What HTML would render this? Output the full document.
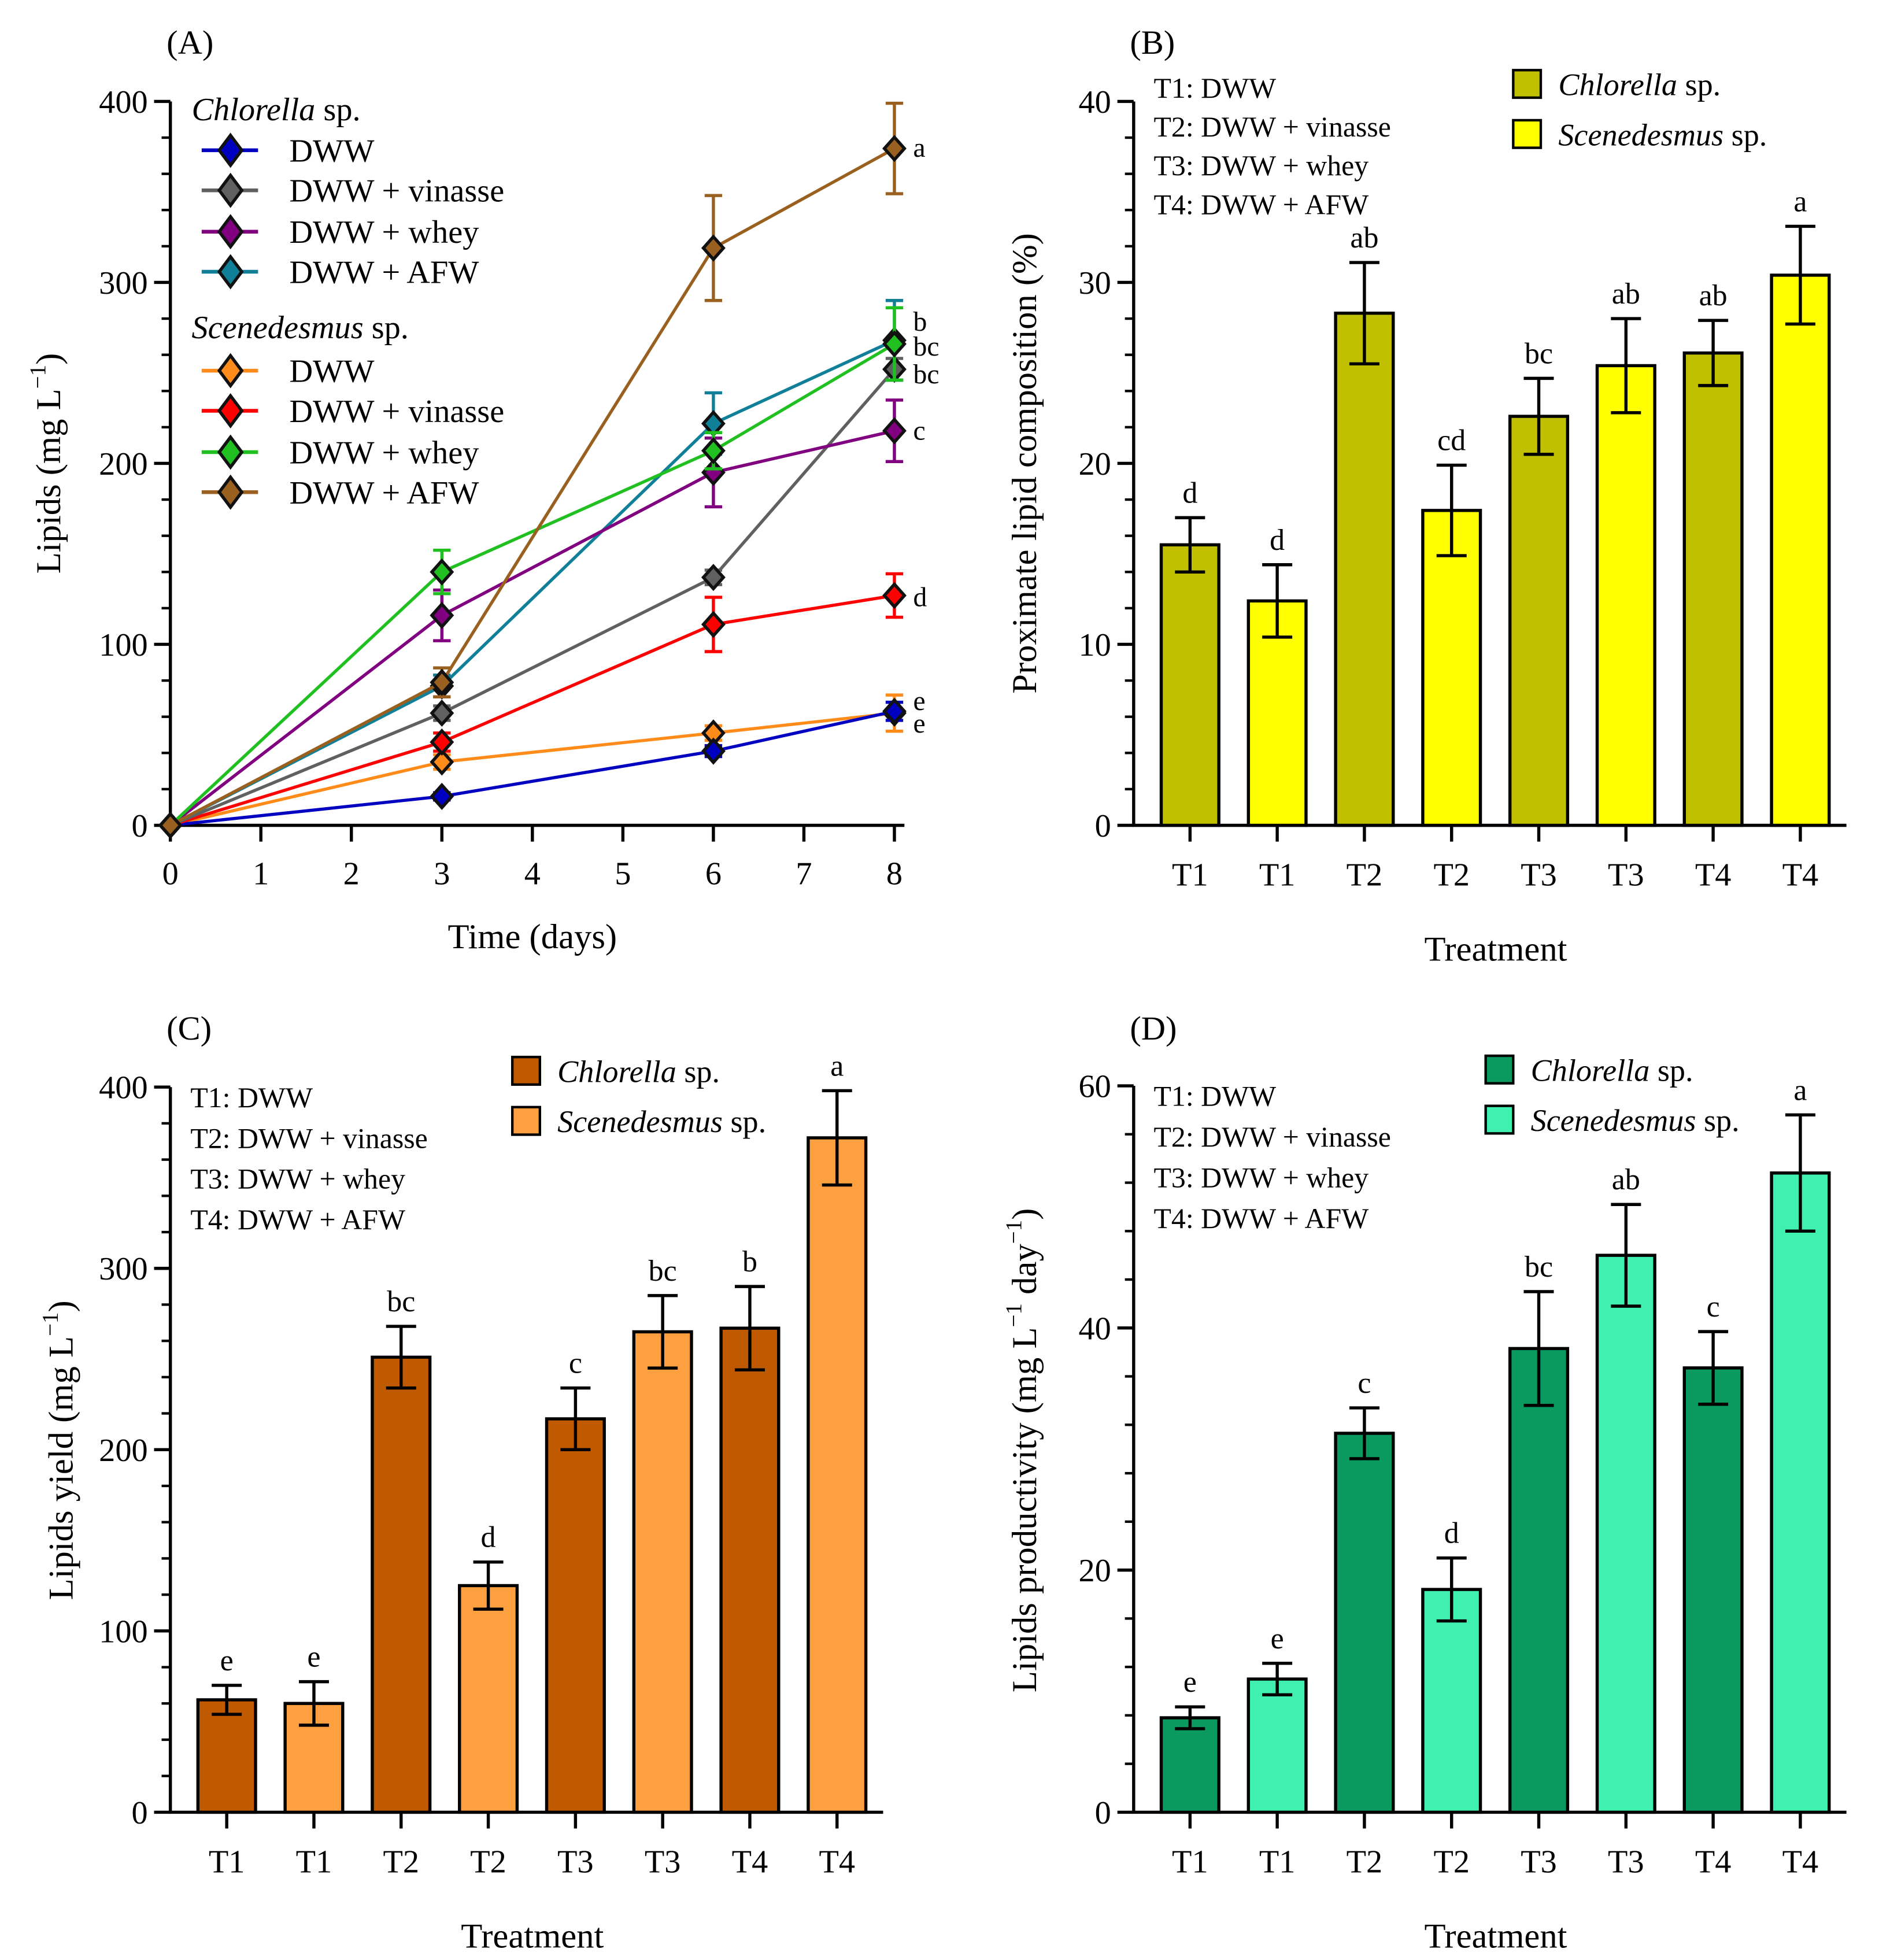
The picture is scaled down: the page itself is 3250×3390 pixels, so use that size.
<!DOCTYPE html>
<html><head><meta charset="utf-8">
<style>html,body{margin:0;padding:0;background:#fff}svg{display:block}text{font-family:"Liberation Serif",serif;fill:#000}</style>
</head><body>
<svg id="fig" xmlns="http://www.w3.org/2000/svg" width="3250" height="3390" viewBox="0 0 1500 1565" preserveAspectRatio="none"></svg>
<script>
const days=[0,3,6,8];
const seriesNames=["DWW","DWW + vinasse","DWW + whey","DWW + AFW","DWW","DWW + vinasse","DWW + whey","DWW + AFW"];
const chlDWW=[0,16,41,63], chlVin=[0,62,137,252], chlWhey=[0,116,195,218], chlAFW=[0,77,222,268];
const scDWW=[0,35,51,62], scVin=[0,46,111,127], scWhey=[0,140,207,266], scAFW=[0,79,319,374];
const chlDWWe=[0,2,3,5], chlVinE=[0,4,4,6], chlWheyE=[0,14,19,17], chlAFWe=[0,6,17,22];
const scDWWe=[0,4,4,10], scVinE=[0,5,15,12], scWheyE=[0,12,10,20], scAFWe=[0,8,29,25];
const endLetters=["e","bc","c","b","e","d","bc","a"];
const endLetterY=[578,299,344,257,560,477,277,118];
const treatments=["T1","T1","T2","T2","T3","T3","T4","T4"];
const bVals=[15.5,12.4,28.3,17.4,22.6,25.4,26.1,30.4], bErr=[1.5,2,2.8,2.5,2.1,2.6,1.8,2.7], bLet=["d","d","ab","cd","bc","ab","ab","a"];
const cVals=[62,60,251,125,217,265,267,372], cErr=[8,12,17,13,17,20,23,26], cLet=["e","e","bc","d","c","bc","b","a"];
const dVals=[7.8,11,31.3,18.4,38.3,46,36.7,52.8], dErr=[0.9,1.3,2.1,2.6,4.7,4.2,3,4.8], dLet=["e","e","c","d","bc","ab","c","a"];
const aTicks=[0,100,200,300,400], bTicks=[0,10,20,30,40], dTicks=[0,20,40,60];

const NS="http://www.w3.org/2000/svg", svg=document.getElementById('fig');
function mk(tag,attrs,parent,txt){const e=document.createElementNS(NS,tag);for(const k in attrs)e.setAttribute(k,attrs[k]);if(txt!==undefined)e.textContent=txt;(parent||svg).appendChild(e);return e;}
function line(x1,y1,x2,y2,c,w,p){return mk('line',{x1,y1,x2,y2,stroke:c||'#000','stroke-width':w||2},p);}

function yAxis(g,x,y0,y1,ticks,max){
  const s=v=>y0-(y0-y1)*v/max;
  line(x,y0+1,x,y1,'#000',2.5,g);
  ticks.forEach((t,i)=>{line(x-13,s(t),x,s(t),'#000',2.5,g);
    const tl=mk('text',{x:x-18,y:s(t)+9,'font-size':26,'text-anchor':'end'},g,t);
    
    if(i<ticks.length-1){const st=(ticks[i+1]-t)/5;for(let k=1;k<5;k++)line(x-7,s(t+k*st),x,s(t+k*st),'#000',2,g);}
  });
  return s;
}
function yTitle(g,x,y,html){const t=mk('text',{x:0,y:0,'font-size':28,'text-anchor':'middle',transform:`translate(${x},${y}) rotate(-90)`},g);t.innerHTML=html;}
function label(x,y,s){const t=mk('text',{x,y,'font-size':27},svg,s);}

/* Panel A */
const gA=mk('g',{});
label(133,43,"(A)");
const ax=d=>136+72.25*d;
const ayS=yAxis(gA,136,659,81,aTicks,400);
line(135,659,722,659,'#000',2.5,gA);
for(let d=0;d<=8;d++){line(ax(d),659,ax(d),672,'#000',2.5,gA);const t=mk('text',{x:ax(d),y:706,'font-size':26,'text-anchor':'middle'},gA,d);}
const xt=mk('text',{x:425,y:757,'font-size':28,'text-anchor':'middle'},gA,'Time (days)');
yTitle(gA,48,370,'Lipids (mg L<tspan dy="-12" font-size="18">−1</tspan><tspan dy="12">)</tspan>');
const allS=[chlDWW,chlVin,chlWhey,chlAFW,scDWW,scVin,scWhey,scAFW];
const allE=[chlDWWe,chlVinE,chlWheyE,chlAFWe,scDWWe,scVinE,scWheyE,scAFWe];
const cols=["#0000c0","#606060","#800080","#108098","#ff8c1a","#ff0000","#20c020","#9a6020"];
const drawOrder=[4,0,5,1,3,2,6,7];
drawOrder.forEach(i=>{
  const g=mk('g',{},gA);
  const pts=days.map((d,j)=>ax(d)+','+ayS(allS[i][j])).join(' ');
  mk('polyline',{points:pts,fill:'none',stroke:cols[i],'stroke-width':2.5},g);
  days.forEach((d,j)=>{const v=allS[i][j],e=allE[i][j];if(e>0){const x=ax(d);line(x,ayS(v-e),x,ayS(v+e),cols[i],2.5,g);line(x-7,ayS(v+e),x+7,ayS(v+e),cols[i],2.5,g);line(x-7,ayS(v-e),x+7,ayS(v-e),cols[i],2.5,g);}});
  days.forEach((d,j)=>{const x=ax(d),y=ayS(allS[i][j]);const m=mk('polygon',{points:`${x},${y-9} ${x+8},${y} ${x},${y+9} ${x-8},${y}`,fill:cols[i],stroke:'#111','stroke-width':2.5},g);});
  const t=mk('text',{x:729,y:endLetterY[i]+7,'font-size':22},g,endLetters[i]);
});
const lgA=mk('g',{},gA);
mk('text',{x:153,y:96,'font-size':26},lgA).innerHTML='<tspan font-style="italic">Chlorella</tspan> sp.';
mk('text',{x:153,y:270,'font-size':26},lgA).innerHTML='<tspan font-style="italic">Scenedesmus</tspan> sp.';
const lgY=[120,152,185,217,296,328,361,393];
for(let i=0;i<8;i++){const y=lgY[i];const e=mk('g',{},lgA);
  line(161,y,206,y,cols[i],3,e);mk('polygon',{points:`184,${y-12} 193,${y} 184,${y+12} 175,${y}`,fill:cols[i],stroke:'#111','stroke-width':2.5},e);
  mk('text',{x:231,y:y+9,'font-size':26},e,seriesNames[i]);}

/* Bar panels */
function barPanel(name,lab,x0,y0,y1,ticks,max,vals,errs,lets,c1,c2,title,titleY,treatY,legX,legY,keyY,keyDy){
  const g=mk('g',{});
  label(lab[1],lab[2],lab[0]);
  const s=yAxis(g,x0,y0,y1,ticks,max);
  line(x0-1,y0,x0+569,y0,'#000',2.5,g);
  const bx=i=>x0+45+69.6*i;
  vals.forEach((v,i)=>{const x=bx(i);
    const r=mk('rect',{x:x-23,y:s(v),width:46,height:y0-s(v),fill:i%2?c2:c1,stroke:'#000','stroke-width':2.5},g);
    const e=errs[i];line(x,s(v-e),x,s(v+e),'#000',2.5,g);line(x-12,s(v+e),x+12,s(v+e),'#000',2.5,g);line(x-12,s(v-e),x+12,s(v-e),'#000',2.5,g);
    const lt=mk('text',{x,y:s(v+e)-12,'font-size':24,'text-anchor':'middle'},g,lets[i]);
    line(x,y0,x,y0+13,'#000',2.5,g);
    const tt=mk('text',{x,y:y0+48,'font-size':26,'text-anchor':'middle'},g,treatments[i]);
  });
  const xt=mk('text',{x:x0+289,y:treatY,'font-size':28,'text-anchor':'middle'},g,'Treatment');
  yTitle(g,x0-78,titleY,title);
  const tl=["T1: DWW","T2: DWW + vinasse","T3: DWW + whey","T4: DWW + AFW"];
  tl.forEach((t,i)=>{const e=mk('text',{x:x0+16,y:keyY+keyDy*i,'font-size':23},g,t);});
  [[c1,'Chlorella'],[c2,'Scenedesmus']].forEach(([c,n],i)=>{const e=mk('g',{},g);
    mk('rect',{x:legX,y:legY+40*i-11,width:22,height:22,fill:c,stroke:'#000','stroke-width':2},e);
    mk('text',{x:legX+36,y:legY+40*i+9,'font-size':25},e).innerHTML=`<tspan font-style="italic">${n}</tspan> sp.`;});
}
barPanel('panel-b-lipid-composition',["(B)",902,43],905,659,81,bTicks,40,bVals,bErr,bLet,"#c0c000","#ffff00",'Proximate lipid composition (%)',370,767,1208,67,78,31);
barPanel('panel-c-lipids-yield',["(C)",133,830],136,1447,868,aTicks,400,cVals,cErr,cLet,"#c05a00","#ffa040",'Lipids yield (mg L<tspan dy="-12" font-size="18">−1</tspan><tspan dy="12">)</tspan>',1158,1555,409,855,884,32.5);
barPanel('panel-d-lipids-productivity',["(D)",902,830],905,1447,867,dTicks,60,dVals,dErr,dLet,"#0a9a60","#40f0b0",'Lipids productivity (mg L<tspan dy="-12" font-size="18">−1</tspan><tspan dy="12"> day</tspan><tspan dy="-12" font-size="18">−1</tspan><tspan dy="12">)</tspan>',1158,1555,1186,854,883,32.5);
</script>
</body></html>
